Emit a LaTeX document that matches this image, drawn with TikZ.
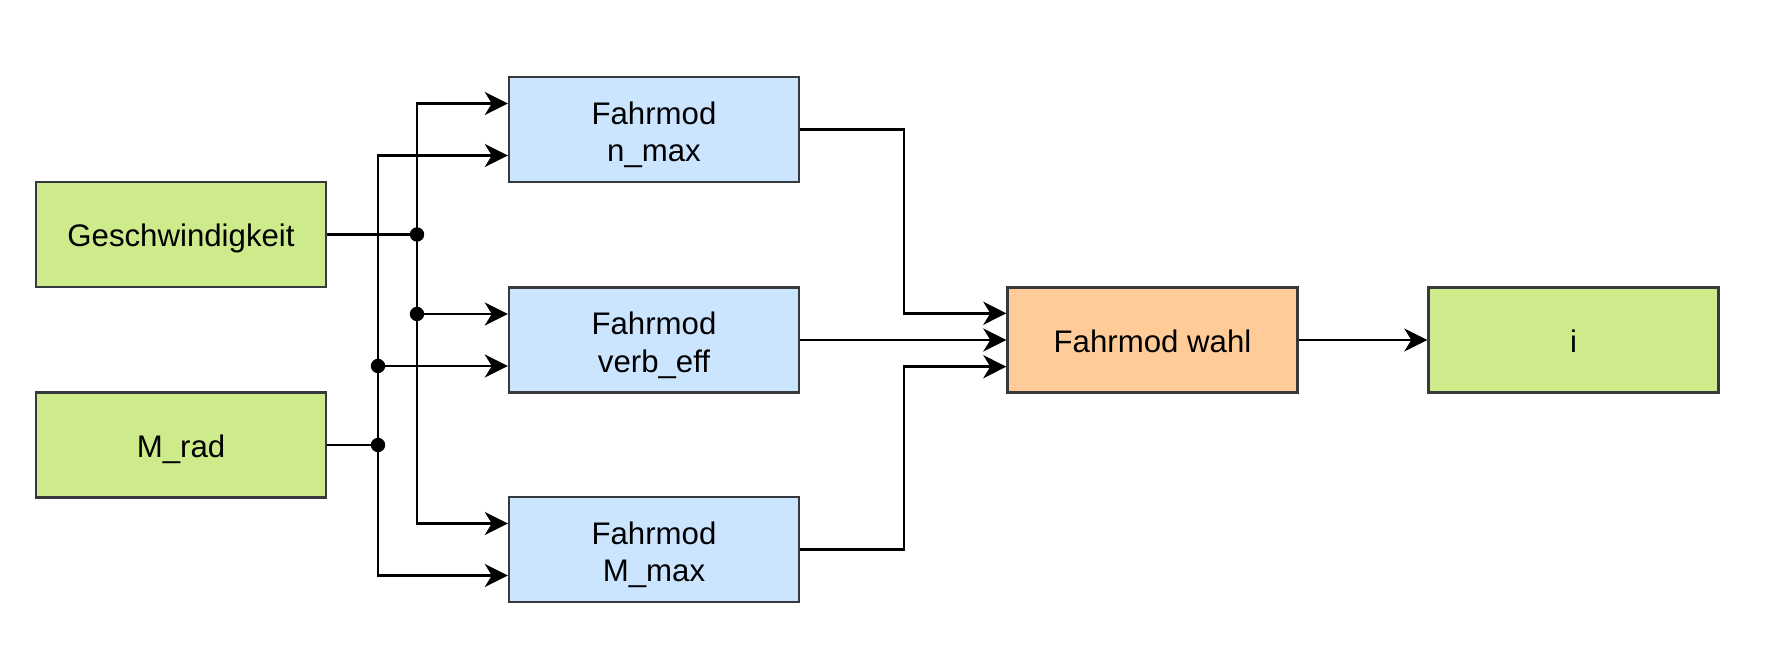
\documentclass[tikz,border=0pt]{standalone}
\usepackage{fontspec}
\setmainfont{Liberation Sans}
\usetikzlibrary{arrows.meta,calc}
\definecolor{boxgreen}{HTML}{CDEB8B}
\definecolor{boxblue}{HTML}{CCE5FF}
\definecolor{boxorange}{HTML}{FFCC99}
\definecolor{boxline}{HTML}{36393D}
\newcommand{\oneline}[1]{\raisebox{-6.1pt}[0pt][0pt]{#1}}
\newcommand{\twoline}[2]{\raisebox{2.5pt}[0pt][0pt]{\begin{tabular}[t]{@{}c@{}}#1\\#2\end{tabular}}}
\begin{document}
\begin{tikzpicture}[x=0.5pt,y=-0.5pt,
  box/.style={draw=boxline,line width=1.2pt,minimum width=145pt,minimum height=52.5pt,
    inner sep=0pt,font=\fontsize{15.6}{18.7}\selectfont},
  green/.style={box,fill=boxgreen},
  blue/.style={box,fill=boxblue},
  orange/.style={box,fill=boxorange},
  conn/.style={line width=1.35pt,black},
  arr/.style={conn,-{Stealth[length=11.5pt,width=11.5pt,inset=3.5pt]}},
  dot/.style={fill=black}]
\useasboundingbox (0,0) rectangle (1767,672);
\node[green] (g) at (181,234.5) {\oneline{Geschwindigkeit}};
\node[green] (m) at (181,445) {\oneline{M\_rad}};
\node[blue] (fn) at (654,129.5) {\twoline{Fahrmod}{n\_max}};
\node[blue] (fv) at (654,340) {\twoline{Fahrmod}{verb\_eff}};
\node[blue] (fm) at (654,549.5) {\twoline{Fahrmod}{M\_max}};
\node[orange] (fw) at (1152.5,340) {\oneline{Fahrmod wahl}};
\node[green] (i) at (1573.5,340) {\oneline{i}};
\coordinate (busA) at (417,0);
\coordinate (busB) at (378,0);
\coordinate (busR) at (904,0);
\coordinate (fnA) at ($(fn.west)+(0,-26)$);
\coordinate (fnB) at ($(fn.west)+(0,26)$);
\coordinate (fvA) at ($(fv.west)+(0,-26)$);
\coordinate (fvB) at ($(fv.west)+(0,26)$);
\coordinate (fmA) at ($(fm.west)+(0,-26)$);
\coordinate (fmB) at ($(fm.west)+(0,26)$);
\coordinate (gd) at (g.east -| busA);
\coordinate (md) at (m.east -| busB);
\coordinate (fvAd) at (fvA -| busA);
\coordinate (fvBd) at (fvB -| busB);
\coordinate (fwA) at ($(fw.west)+(0,-26.7)$);
\coordinate (fwB) at ($(fw.west)+(0,26.7)$);
% inputs
\draw[conn] (g.east) -- (gd);
\draw[conn] (m.east) -- (md);
\draw[arr] (gd) |- (fnA);
\draw[arr] (gd) |- (fmA);
\draw[arr] (fvAd) -- (fvA);
\draw[arr] (md) |- (fnB);
\draw[arr] (md) |- (fmB);
\draw[arr] (fvBd) -- (fvB);
\fill[dot] (gd) circle[radius=3.6pt];
\fill[dot] (md) circle[radius=3.6pt];
\fill[dot] (fvAd) circle[radius=3.6pt];
\fill[dot] (fvBd) circle[radius=3.6pt];
% outputs
\draw[arr] (fn.east) -| (fn.east -| busR) |- (fwA);
\draw[arr] (fv.east) -- (fw.west);
\draw[arr] (fm.east) -| (fm.east -| busR) |- (fwB);
\draw[arr] (fw.east) -- (i.west);
\end{tikzpicture}
\end{document}
